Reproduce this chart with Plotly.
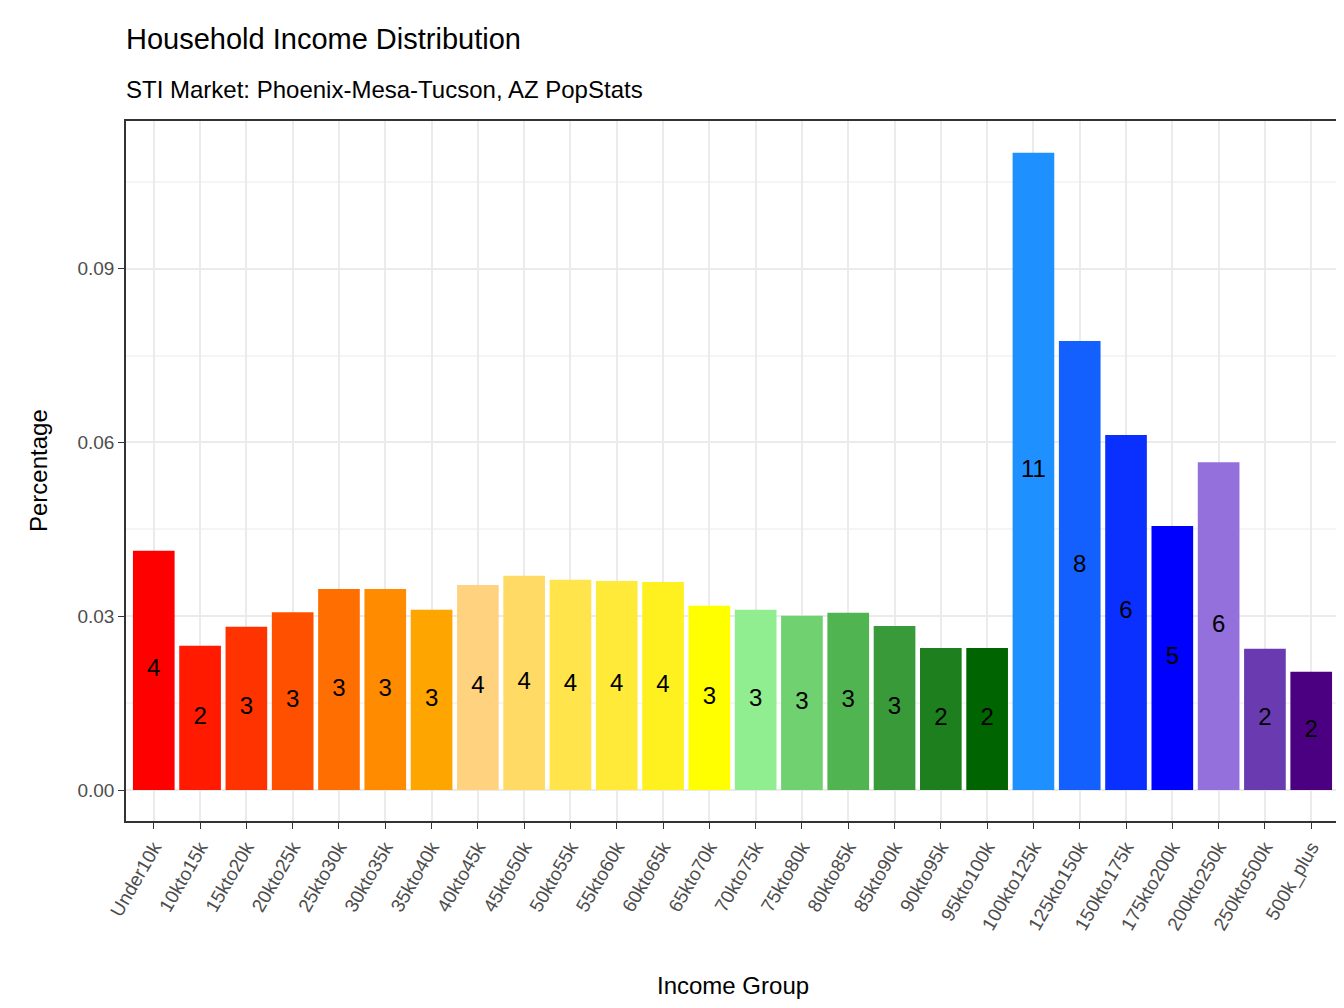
import plotly.graph_objects as go

groups = ["Under10k","10kto15k","15kto20k","20kto25k","25kto30k","30kto35k","35kto40k","40kto45k",
          "45kto50k","50kto55k","55kto60k","60kto65k","65kto70k","70kto75k","75kto80k","80kto85k",
          "85kto90k","90kto95k","95kto100k","100kto125k","125kto150k","150kto175k","175kto200k",
          "200kto250k","250kto500k","500k_plus"]
values = [0.0413,0.0249,0.0282,0.0307,0.0347,0.0347,0.0311,0.0354,0.0370,0.0363,0.0361,0.0359,
          0.0318,0.0311,0.0301,0.0306,0.0283,0.0245,0.0245,0.1100,0.0775,0.0613,0.0456,0.0566,
          0.0244,0.0204]
labels = ["4","2","3","3","3","3","3","4","4","4","4","4","3","3","3","3","3","2","2","11","8","6","5","6","2","2"]
colors = ["#FF0000","#FF1A00","#FF3300","#FF5000","#FF6E00","#FF8C00","#FFA500","#FFD27F",
          "#FFDB66","#FFE44C","#FFEA3A","#FFF020","#FFFF00","#90EE90","#6FD16F","#50B450",
          "#389A38","#1E7F1E","#006400","#1E90FF","#1460FF","#0A30FF","#0000FF","#9370DB",
          "#6A3AB0","#4B0082"]

fig = go.Figure()
fig.add_bar(x=groups, y=values, marker=dict(color=colors, line=dict(width=0)), width=0.9, showlegend=False)
fig.add_scatter(x=groups, y=[v/2 for v in values], mode="text", text=labels,
                textfont=dict(size=24, color="black", family="Liberation Sans"), showlegend=False)

fig.update_layout(
    width=1344, height=1008, plot_bgcolor="white", paper_bgcolor="white",
    margin=dict(l=118, r=13, t=113, b=195, autoexpand=False),
    font=dict(family="Liberation Sans"),
    bargap=0.1,
    annotations=[
        dict(text="Household Income Distribution", xref="paper", yref="paper", x=0, y=(1008-113-14)/700,
             xanchor="left", yanchor="middle", showarrow=False, font=dict(size=29, color="black"), xshift=-2,
             yshift=0),
        dict(text="STI Market: Phoenix-Mesa-Tucson, AZ PopStats", xref="paper", yref="paper", x=0, y=1,
             xanchor="left", yanchor="middle", showarrow=False, font=dict(size=24, color="black"), xshift=-2,
             yshift=32),
        dict(text="Income Group", xref="paper", yref="paper", x=0.5, y=0, yanchor="middle", showarrow=False,
             font=dict(size=24, color="black"), yshift=-164),
        dict(text="Percentage", xref="paper", yref="paper", x=0, y=0.5, xanchor="center", showarrow=False,
             textangle=-90, font=dict(size=24, color="black"), xshift=-88),
    ],
)
fig.layout.annotations[0].update(y=1, yshift=82)
fig.update_xaxes(automargin=False,
                 tickangle=-60, tickfont=dict(size=19, color="#4D4D4D"), ticks="outside", ticklen=6,
                 tickcolor="#333333", showgrid=True, gridcolor="#EBEBEB", gridwidth=2, showline=True, linecolor="#333333",
                 linewidth=1.5, mirror=True, range=[-0.6, 25.6])
fig.update_yaxes(automargin=False,
                 range=[-0.00535, 0.1155], tickvals=[0, 0.03, 0.06, 0.09], ticktext=["0.00","0.03","0.06","0.09"],
                 tickfont=dict(size=19, color="#4D4D4D"), ticks="outside", ticklen=6, tickcolor="#333333",
                 showgrid=True, gridcolor="#EBEBEB", gridwidth=2, zeroline=False, showline=True, linecolor="#333333",
                 linewidth=1.5, mirror=True,
                 minor=dict(tickvals=[0.015, 0.045, 0.075, 0.105], showgrid=True, gridcolor="#F5F5F5", ticks=""))
fig.write_html("out.html")
